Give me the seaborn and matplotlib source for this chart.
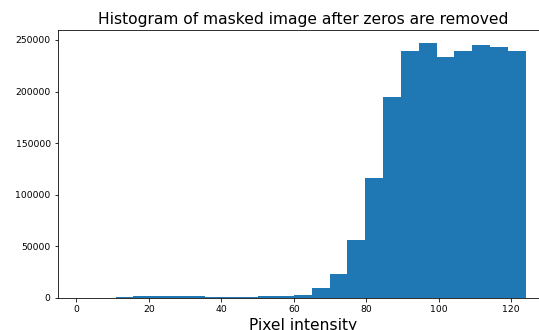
import numpy as np
import pandas as pd
import matplotlib
matplotlib.use("Agg")
import matplotlib.pyplot as plt
import seaborn as sns

# Representative pixel intensity (centre of each histogram bin) and counts
intensity = [3.5, 8.4, 13.3, 18.2, 23.1, 28.1, 33.0, 37.9, 42.8, 47.7,
             52.7, 57.6, 62.5, 67.4, 72.3, 77.3, 82.2, 87.1, 92.0, 96.9,
             101.9, 106.8, 111.7, 116.6, 121.5]
counts = [0, 0, 700, 1900, 2000, 2000, 1900, 1000, 1000, 1000,
          1800, 1800, 2800, 9100, 22700, 56000, 116400, 195000, 239600, 247100,
          233200, 239600, 245200, 243500, 239600]

df = pd.DataFrame({"intensity": intensity, "count": counts})

fig = plt.figure(figsize=(539 / 72, 330 / 72), dpi=72)
ax = fig.add_axes([57.7 / 539, 32.3 / 330, (548 - 57.7) / 539, (297.7 - 30) / 330])

sns.histplot(data=df, x="intensity", weights="count", bins=25, binrange=(1, 124),
             color="#1f77b4", alpha=1, linewidth=0, ax=ax)

ax.set_xlim(-5.15, 130.15)
ax.set_ylim(0, 259700)
ax.set_xticks([0, 20, 40, 60, 80, 100, 120])
ax.set_yticks([0, 50000, 100000, 150000, 200000, 250000])
ax.tick_params(labelsize=9.2)
ax.set_ylabel("")
ax.set_xlabel("Pixel intensity", fontsize=15.5)
ax.set_title("Histogram of masked image after zeros are removed", fontsize=15.5)

fig.savefig("out.png", dpi=72)
